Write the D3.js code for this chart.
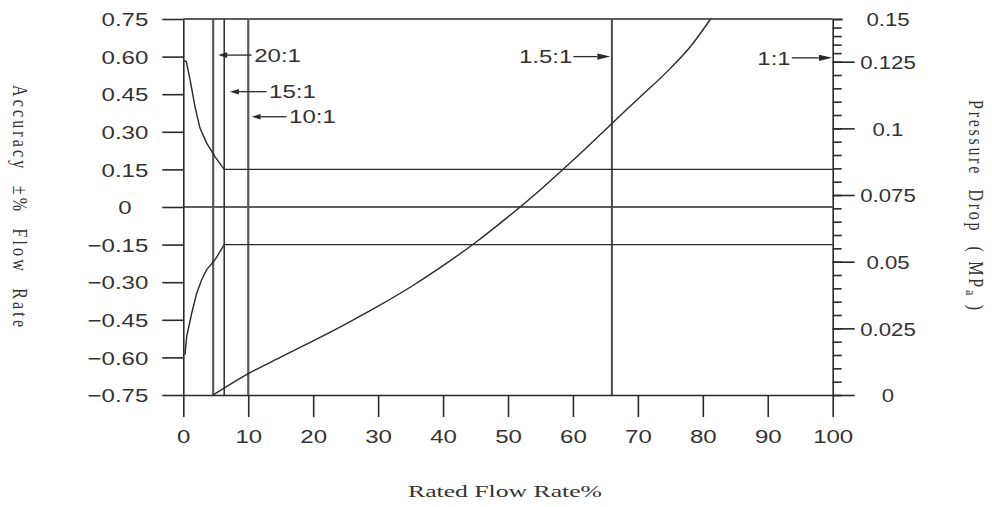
<!DOCTYPE html>
<html><head><meta charset="utf-8">
<script src="https://cdn.jsdelivr.net/npm/d3@7"></script>
<style>
body{margin:0;background:#fff;}
svg{display:block;}
</style></head>
<body>
<svg id="chart" width="992" height="507"></svg>
<script>
// ---------- data ----------
const flowTicks = [0,10,20,30,40,50,60,70,80,90,100];
const accuracyTicks = [0.75,0.60,0.45,0.30,0.15,0,-0.15,-0.30,-0.45,-0.60,-0.75];
const accuracyTickLabels = ["0.75","0.60","0.45","0.30","0.15","0","\u22120.15","\u22120.30","\u22120.45","\u22120.60","\u22120.75"];
const pressureMajorTicks = [0,0.025,0.05,0.075,0.1,0.125,0.15];
const pressureTickLabels = ["0","0.025","0.05","0.075","0.1","0.125","0.15"];

const upperFlow     = [0,0.46,1.05,1.8,2.57,3.6,4.9,6.3,100];
const upperAccuracy = [0.585,0.58,0.507,0.40,0.315,0.255,0.20,0.15,0.15];
const lowerFlow     = [0.26,0.52,1.29,2.06,2.83,3.6,4.9,6.3,100];
const lowerAccuracy = [-0.59,-0.517,-0.424,-0.344,-0.29,-0.25,-0.21,-0.15,-0.15];

const pressureFlow = [4.6,10,15,20,25,30,35,40,45,50,55,60,65,70,75,78.1,81.2];
const pressureDrop = [0,0.0080,0.0142,0.0203,0.0266,0.0333,0.0405,0.0485,0.0572,0.0668,0.0770,0.0880,0.0995,0.1110,0.1225,0.1339,0.15];

const ratioLabels = ["20:1","15:1","10:1","1.5:1","1:1"];
const ratioFlow   = [4.6,6.3,10,66,100];

// ---------- layout ----------
const X0=183.3, X1=832.7, Y0=19, Y1=395;
const ink="#2a2a2a", textInk="#333";
const sans='"Liberation Sans", Arial, Helvetica, sans-serif';
const serif='"Liberation Serif", "Times New Roman", serif';

const x = d3.scaleLinear().domain([0,100]).range([X0,X1]);
const yAcc = d3.scaleLinear().domain([-0.75,0.75]).range([Y1,Y0]);
const yP = d3.scaleLinear().domain([0,0.125,0.15]).range([Y1,61.7,Y0]);

const svg = d3.select("#chart");

function stretch(sel,k){
  sel.each(function(){
    const t=d3.select(this);
    const tx=+t.attr("x")||0;
    t.attr("transform",`translate(${tx},0) scale(${k},1) translate(${-tx},0)`);
  });
}
function styleAxis(g){
  g.selectAll("path,line").attr("stroke",ink).attr("stroke-width",1.6);
  g.selectAll("text").attr("fill",textInk).style("font-family",sans).style("font-size","18.5px");
}

// frame: top line and zero line
svg.append("line").attr("x1",X0).attr("x2",X1).attr("y1",yAcc(0.75)).attr("y2",yAcc(0.75))
  .attr("stroke",ink).attr("stroke-width",1.6);
svg.append("line").attr("x1",X0).attr("x2",X1).attr("y1",yAcc(0)).attr("y2",yAcc(0))
  .attr("stroke",ink).attr("stroke-width",1.6);

// vertical ratio lines
const vlineStyle = [{c:"#5a5a5a",w:2.2},{c:"#2a2a2a",w:1.5},{c:"#5a5a5a",w:2.2},{c:"#4a4a4a",w:2}];
ratioFlow.slice(0,4).forEach((v,i)=>{
  svg.append("line").attr("x1",x(v)).attr("x2",x(v)).attr("y1",yAcc(0.75)).attr("y2",yAcc(-0.75))
    .attr("stroke",vlineStyle[i].c).attr("stroke-width",vlineStyle[i].w);
});

// left axis
const gL = svg.append("g").attr("transform",`translate(${X0},0)`)
  .call(d3.axisLeft(yAcc).tickValues(accuracyTicks).tickSize(21).tickSizeOuter(0).tickPadding(14)
    .tickFormat((d,i)=>accuracyTickLabels[i]));
styleAxis(gL);
gL.selectAll("text").attr("dy","0.36em");
gL.selectAll(".tick").filter(d=>d===0).select("text").attr("x",125-X0).attr("text-anchor","middle");
stretch(gL.selectAll("text"),1.3);

// bottom axis
const gB = svg.append("g").attr("transform",`translate(0,${Y1})`)
  .call(d3.axisBottom(x).tickValues(flowTicks).tickSize(22).tickSizeOuter(0).tickPadding(13));
styleAxis(gB);
stretch(gB.selectAll("text"),1.3);

// right axis (minor + major)
const minorP = d3.range(0,31).map(i=>+(i*0.005).toFixed(3));
const gRm = svg.append("g").attr("transform",`translate(${X1},0)`)
  .call(d3.axisRight(yP).tickValues(minorP).tickSize(9).tickSizeOuter(0).tickFormat(""));
styleAxis(gRm);
const gR = svg.append("g").attr("transform",`translate(${X1},0)`)
  .call(d3.axisRight(yP).tickValues(pressureMajorTicks).tickSize(22).tickSizeOuter(0)
    .tickFormat((d,i)=>pressureTickLabels[i]));
styleAxis(gR);
gR.select(".domain").remove();
gR.selectAll(".tick").filter(d=>d===0.15).select("line").attr("x2",10);
gR.selectAll("text").attr("x",888-X1).attr("text-anchor","middle").attr("dy","0.36em");
stretch(gR.selectAll("text"),1.2);

// accuracy curves
const accLine = d3.line().x(d=>x(d[0])).y(d=>yAcc(d[1]));
svg.append("path").datum(upperFlow.map((f,i)=>[f,upperAccuracy[i]]))
  .attr("d",accLine).attr("fill","none").attr("stroke",ink).attr("stroke-width",1.4);
svg.append("path").datum(lowerFlow.map((f,i)=>[f,lowerAccuracy[i]]))
  .attr("d",accLine).attr("fill","none").attr("stroke",ink).attr("stroke-width",1.4);

// pressure curve
const pLine = d3.line().x(d=>x(d[0])).y(d=>yP(d[1])).curve(d3.curveMonotoneX);
svg.append("path").datum(pressureFlow.map((f,i)=>[f,pressureDrop[i]]))
  .attr("d",pLine).attr("fill","none").attr("stroke",ink).attr("stroke-width",1.4);

// ratio annotations (arrows + labels)
const ann = [
  {acc:0.606, dir:-1, gap:5,  len:33.5},
  {acc:0.46,  dir:-1, gap:5.7,len:36.7},
  {acc:0.36,  dir:-1, gap:3.4,len:35},
  {acc:0.60,  dir: 1, gap:1.5,len:37},
  {acc:0.595, dir: 1, gap:0.7,len:40.3}
];
ratioLabels.forEach((lab,i)=>{
  const a=ann[i];
  const lx=x(ratioFlow[i]);
  const yy=yAcc(a.acc);
  const tip = a.dir<0 ? lx + a.gap : lx - a.gap;
  const tail = a.dir<0 ? tip + a.len : tip - a.len;
  const hl = a.dir<0 ? 9 : 13, hw = a.dir<0 ? 2.8 : 3.2;
  const back = a.dir<0 ? tip + hl : tip - hl;
  svg.append("line").attr("x1",tail).attr("x2",back).attr("y1",yy).attr("y2",yy)
    .attr("stroke",ink).attr("stroke-width",1.3);
  svg.append("path").attr("d",`M${tip},${yy}L${back},${yy-hw}L${back},${yy+hw}Z`).attr("fill",ink);
  const t = svg.append("text").text(lab)
    .attr("x", a.dir<0 ? tail+2.5 : tail-1)
    .attr("y", yy).attr("dy","0.36em")
    .attr("text-anchor", a.dir<0 ? "start":"end")
    .attr("fill",textInk).style("font-family",sans).style("font-size","18.5px");
  stretch(t,1.3);
});

// axis titles
svg.append("text").text("Rated Flow Rate%")
  .attr("x",505).attr("y",497).attr("text-anchor","middle")
  .attr("textLength",194).attr("lengthAdjust","spacingAndGlyphs")
  .attr("fill",textInk).style("font-family",serif).style("font-size","17px");

svg.append("g").attr("transform","translate(20,206) scale(1.25,1) rotate(90)")
  .append("text").text("Accuracy  \u00b1%  Flow  Rate")
  .style("white-space","pre")
  .attr("text-anchor","middle").attr("dy","0.35em")
  .attr("textLength",242).attr("lengthAdjust","spacing")
  .attr("fill",textInk).style("font-family",serif).style("font-size","16px");

const rt = svg.append("g").attr("transform","translate(976,205) scale(1.25,1) rotate(90)")
  .append("text")
  .style("white-space","pre")
  .attr("text-anchor","middle").attr("dy","0.35em")
  .attr("textLength",210).attr("lengthAdjust","spacing")
  .attr("fill",textInk).style("font-family",serif).style("font-size","16px");
rt.append("tspan").text("Pressure  Drop  ( MP");
rt.append("tspan").text("a").style("font-size","12px").attr("dy","2");
rt.append("tspan").text(" )").attr("dy","-2");
</script>
</body></html>
